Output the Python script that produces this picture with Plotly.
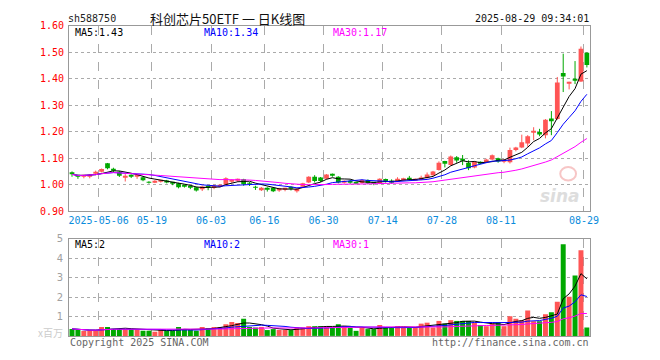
import plotly.graph_objects as go
import pandas as pd

W, H = 660, 360

# ---------------- data ----------------
opens = [1.047, 1.034, 1.030, 1.032, 1.042, 1.052, 1.081, 1.058, 1.049, 1.027,
         1.036, 1.030, 1.028, 1.010, 1.009, 1.011, 1.016, 1.006, 1.005, 0.996,
         0.993, 0.990, 0.983, 0.992, 0.987, 0.994, 1.000, 1.011, 1.017, 1.020,
         1.005, 0.990, 0.979, 0.986, 0.988, 0.978, 0.982, 0.991, 0.975, 0.992,
         1.008, 1.030, 1.027, 1.022, 1.040, 1.030, 1.007, 1.012, 1.008, 1.006,
         1.018, 1.006, 1.005, 1.021, 1.012, 1.013, 1.016, 1.024, 1.018, 1.019,
         1.025, 1.036, 1.055, 1.089, 1.074, 1.104, 1.097, 1.083, 1.065, 1.083,
         1.086, 1.095, 1.100, 1.088, 1.085, 1.131, 1.140, 1.156, 1.198, 1.199,
         1.187, 1.250, 1.248, 1.422, 1.382, 1.397, 1.390, 1.498]
highs = [1.050, 1.037, 1.037, 1.040, 1.053, 1.061, 1.082, 1.064, 1.052, 1.040,
         1.039, 1.040, 1.031, 1.013, 1.017, 1.016, 1.018, 1.009, 1.007, 0.999,
         0.997, 0.992, 0.996, 0.996, 1.000, 1.001, 1.028, 1.020, 1.023, 1.022,
         1.010, 0.996, 0.991, 0.990, 0.990, 0.988, 0.988, 0.994, 0.987, 1.007,
         1.032, 1.036, 1.029, 1.040, 1.042, 1.032, 1.016, 1.018, 1.010, 1.020,
         1.020, 1.010, 1.024, 1.023, 1.020, 1.028, 1.026, 1.033, 1.024, 1.034,
         1.046, 1.052, 1.088, 1.090, 1.110, 1.108, 1.112, 1.092, 1.089, 1.088,
         1.098, 1.114, 1.102, 1.096, 1.140, 1.143, 1.189, 1.187, 1.217, 1.211,
         1.248, 1.278, 1.407, 1.495, 1.389, 1.467, 1.522, 1.500]
lows = [1.030, 1.022, 1.024, 1.024, 1.036, 1.046, 1.058, 1.047, 1.029, 1.012,
        1.025, 1.022, 1.013, 1.004, 1.006, 1.008, 1.005, 0.998, 0.986, 0.989,
        0.983, 0.974, 0.976, 0.979, 0.983, 0.990, 0.998, 1.007, 1.010, 0.996,
        0.995, 0.980, 0.976, 0.974, 0.972, 0.973, 0.975, 0.978, 0.970, 0.990,
        1.006, 1.008, 1.010, 1.020, 1.030, 1.005, 1.004, 1.003, 1.002, 1.004,
        1.002, 0.998, 1.002, 1.008, 1.004, 1.010, 1.014, 1.016, 1.015, 1.017,
        1.023, 1.034, 1.053, 1.065, 1.072, 1.083, 1.074, 1.055, 1.062, 1.078,
        1.084, 1.092, 1.083, 1.081, 1.080, 1.126, 1.138, 1.143, 1.168, 1.183,
        1.175, 1.187, 1.245, 1.350, 1.360, 1.380, 1.388, 1.443]
closes = [1.039, 1.031, 1.035, 1.036, 1.049, 1.059, 1.062, 1.055, 1.034, 1.034,
          1.031, 1.036, 1.017, 1.007, 1.014, 1.014, 1.008, 1.004, 0.990, 0.994,
          0.991, 0.978, 0.993, 0.990, 0.997, 0.998, 1.024, 1.017, 1.019, 1.002,
          1.003, 0.988, 0.988, 0.984, 0.975, 0.986, 0.984, 0.986, 0.985, 1.005,
          1.030, 1.014, 1.014, 1.038, 1.036, 1.008, 1.012, 1.010, 1.005, 1.018,
          1.005, 1.004, 1.022, 1.010, 1.010, 1.022, 1.024, 1.020, 1.021, 1.027,
          1.038, 1.050, 1.083, 1.079, 1.106, 1.091, 1.093, 1.062, 1.087, 1.080,
          1.095, 1.111, 1.088, 1.092, 1.131, 1.140, 1.160, 1.183, 1.200, 1.190,
          1.245, 1.240, 1.386, 1.409, 1.386, 1.393, 1.514, 1.452]
volumes = [0.36, 0.31, 0.25, 0.28, 0.28, 0.46, 0.46, 0.35, 0.35, 0.35,
           0.35, 0.35, 0.27, 0.27, 0.21, 0.35, 0.27, 0.27, 0.46, 0.35,
           0.31, 0.27, 0.46, 0.41, 0.46, 0.46, 0.60, 0.71, 0.66, 0.88,
           0.46, 0.43, 0.46, 0.30, 0.35, 0.31, 0.31, 0.30, 0.43, 0.43,
           0.50, 0.50, 0.50, 0.50, 0.43, 0.60, 0.50, 0.43, 0.26, 0.43,
           0.35, 0.35, 0.56, 0.43, 0.43, 0.50, 0.43, 0.43, 0.43, 0.63,
           0.68, 0.43, 0.77, 0.63, 0.81, 0.77, 0.77, 0.77, 0.68, 0.56,
           0.50, 0.63, 0.71, 0.50, 1.01, 0.88, 0.81, 1.31, 0.76, 0.76,
           1.11, 1.21, 1.76, 4.71, 2.01, 3.11, 4.41, 0.43]

tick_idx = [5, 14, 24, 33, 43, 53, 63, 73, 87]
tick_text = ["2025-05-06", "05-19", "06-03", "06-16", "06-30",
             "07-14", "07-28", "08-11", "08-29"]
price_ticks = [0.90, 1.00, 1.10, 1.20, 1.30, 1.40, 1.50, 1.60]
vol_ticks = [1, 2, 3, 4, 5]

code = "sh588750"
title = "科创芯片50ETF 一 日K线图"
stamp = "2025-08-29 09:34:01"
price_ma_labels = ["MA5:1.43", "MA10:1.34", "MA30:1.17"]
vol_ma_labels = ["MA5:2", "MA10:2", "MA30:1"]

# ---------------- styling ----------------
UP = "#FF5555"
DN = "#00A800"
MA_COLORS = ["#000000", "#0000FF", "#FF00FF"]
MONO = "DejaVu Sans Mono"
GRID = "#AAAAAA"
FRAME = "#999999"

n = len(closes)
idx = list(range(n))
up = [c >= o for o, c in zip(opens, closes)]
colors = [UP if u else DN for u in up]

cs = pd.Series(closes)
vs = pd.Series(volumes)
price_ma = [cs.rolling(w, min_periods=1).mean() for w in (5, 10, 30)]
vol_ma = [vs.rolling(w, min_periods=1).mean() for w in (5, 10, 30)]

fig = go.Figure()

# wicks
for flag, col in ((True, UP), (False, DN)):
    xs, ys = [], []
    for i in idx:
        if up[i] == flag:
            xs += [i, i, None]
            ys += [lows[i], highs[i], None]
    fig.add_trace(go.Scatter(x=xs, y=ys, mode="lines",
                             line=dict(color=col, width=1),
                             hoverinfo="skip", xaxis="x", yaxis="y"))

# bodies
bases = [min(o, c) for o, c in zip(opens, closes)]
heights = [max(abs(c - o), 0.0035) for o, c in zip(opens, closes)]
fig.add_trace(go.Bar(x=idx, y=heights, base=bases, width=0.8,
                     marker=dict(color=colors, line=dict(width=0)),
                     xaxis="x", yaxis="y"))

for ma, col in zip(price_ma, MA_COLORS):
    fig.add_trace(go.Scatter(x=idx, y=ma, mode="lines",
                             line=dict(color=col, width=1),
                             xaxis="x", yaxis="y"))

# volume
fig.add_trace(go.Bar(x=idx, y=volumes, width=0.84,
                     marker=dict(color=colors, line=dict(width=0)),
                     xaxis="x2", yaxis="y2"))
for ma, col in zip(vol_ma, MA_COLORS):
    fig.add_trace(go.Scatter(x=idx, y=ma, mode="lines",
                             line=dict(color=col, width=1),
                             xaxis="x2", yaxis="y2"))

def px(x):
    return x / W

def py(y):
    return 1 - y / H

xdom = [px(70), px(598)]
grid_x = [t - 0.5 for t in tick_idx]

common_x = dict(domain=xdom, range=[-0.5, n - 0.5], tickvals=grid_x,
                showgrid=True, gridcolor=GRID, griddash="dash", gridwidth=1,
                showline=True, linecolor=FRAME, linewidth=1, mirror=True,
                zeroline=False, ticks="", fixedrange=True)

fig.update_layout(
    width=W, height=H, margin=dict(l=0, r=0, t=0, b=0),
    paper_bgcolor="white", plot_bgcolor="white", showlegend=False,
    barmode="overlay",
    xaxis=dict(common_x, anchor="y", ticktext=tick_text,
               tickfont=dict(family=MONO, size=10, color="#0A8CDC"),
               rangeslider=dict(visible=False)),
    yaxis=dict(domain=[py(211.6), py(20.5)], range=[0.90, 1.60],
               tickvals=price_ticks, ticktext=["%.2f" % v for v in price_ticks],
               tickfont=dict(family=MONO, size=10, color="#FF0000"),
               showgrid=True, gridcolor=GRID, griddash="dot",
               showline=True, linecolor=FRAME, mirror=True, zeroline=False,
               ticks="", ticklabelstandoff=2, anchor="x"),
    xaxis2=dict(common_x, anchor="y2", showticklabels=False),
    yaxis2=dict(domain=[py(340.3), py(240)], range=[0, 5],
                tickvals=vol_ticks, ticktext=[str(v) for v in vol_ticks],
                tickfont=dict(family="DejaVu Sans", size=10, color="#A0A0A0"),
                showgrid=True, gridcolor=GRID, griddash="dot",
                showline=True, linecolor=FRAME, mirror=True, zeroline=False,
                ticks="", ticklabelstandoff=3, anchor="x2"),
)

ann = []
def text(x, y, s, color="#000", size=10, family=MONO, anchor="left", **kw):
    ann.append(dict(x=px(x), y=py(y), xref="paper", yref="paper", text=s,
                    showarrow=False, xanchor=anchor, yanchor="middle",
                    font=dict(family=family, size=size, color=color), **kw))

text(67, 13, code, color="#222")
text(150, 13, title, color="#111", size=13, family="Noto Sans CJK SC")
text(599, 13, stamp, color="#111", anchor="right")
for s, x, c in zip(price_ma_labels, (74, 205, 336), MA_COLORS):
    text(x, 27, s, color=c)
for s, x, c in zip(vol_ma_labels, (74, 205, 336), MA_COLORS):
    text(x, 246, s, color=c)
text(66, 337, "x百万", color="#CCCCCC", size=10, family="Noto Sans CJK SC", anchor="right")
text(69, 347, "Copyright 2025 SINA.COM", color="#666666")
text(599, 347, "http://finance.sina.com.cn", color="#666666", anchor="right")
text(568, 196, "<b><i>sina</i></b>", color="#DDDDDD", size=17, family="DejaVu Sans", anchor="center")
fig.update_layout(annotations=ann)

# sina eye watermark
fig.add_shape(type="circle", xref="paper", yref="paper",
              x0=px(568), x1=px(584), y0=py(180), y1=py(166),
              line=dict(color="#F7C6C6", width=2), fillcolor="rgba(0,0,0,0)",
              layer="below")

fig.write_html("out.html")
